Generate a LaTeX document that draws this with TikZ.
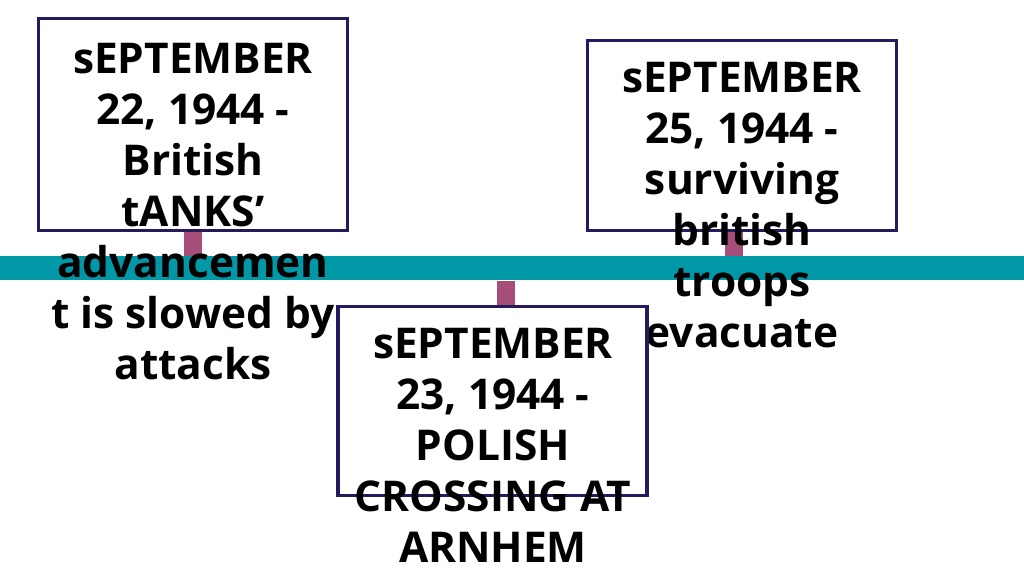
\documentclass[tikz,border=0pt]{standalone}
\usepackage{fontspec}
\setmainfont{Open Sans}
\usepackage{xcolor}
\usetikzlibrary{positioning}
\definecolor{barteal}{HTML}{0097A7}
\definecolor{stemrose}{HTML}{A64D79}
\definecolor{framenavy}{HTML}{241A5C}
\pgfdeclarelayer{background}
\pgfsetlayers{background,main}

\begin{document}
\begin{tikzpicture}[%
    x=0.75pt,
    y=-0.75pt,
    event/.style={%
      rectangle,
      draw=framenavy,
      line width=2.8pt,
      fill=white,
      inner sep=0pt,
      minimum width=231.75pt
    },
    eventtext/.style={%
      align=center,
      inner sep=0pt,
      anchor=north,
      font=\bfseries\fontsize{31.8}{38.25}\selectfont
    },
    stem/.style={%
      draw=stemrose,
      line width=14pt
    }
  ]
    \useasboundingbox (0,0) rectangle (1024,576);

    \node[event, minimum height=159pt]    (box1) at (193,124.5) {};
    \node[eventtext] (t1) at (193,43)  {sEPTEMBER\\22, 1944 -\\British\\tANKS’\\advancemen\\t is slowed by\\attacks};

    \node[event, minimum height=142.5pt]  (box3) at (742,135.5) {};
    \node[eventtext] (t3) at (742,62)  {sEPTEMBER\\25, 1944 -\\surviving\\british\\troops\\evacuate};

    \node[event, minimum height=141.75pt] (box2) at (492.5,401) {};
    \node[eventtext] (t2) at (493,328) {sEPTEMBER\\23, 1944 -\\POLISH\\CROSSING AT\\ARNHEM};

    \begin{pgfonlayer}{background}
      \node[fill=barteal, inner sep=0pt, minimum width=768pt, minimum height=18pt, anchor=north west] (bar) at (0,256) {};
      \draw[stem] (box1.south) -- (box1.south |- bar.north);
      \draw[stem] ([xshift=-6pt]box3.south) -- ([xshift=-6pt]box3.south |- bar.north);
      \draw[stem] ([xshift=10pt]box2.north) -- ([xshift=10pt]box2.north |- bar.south);
    \end{pgfonlayer}
  \end{tikzpicture}
\end{document}
